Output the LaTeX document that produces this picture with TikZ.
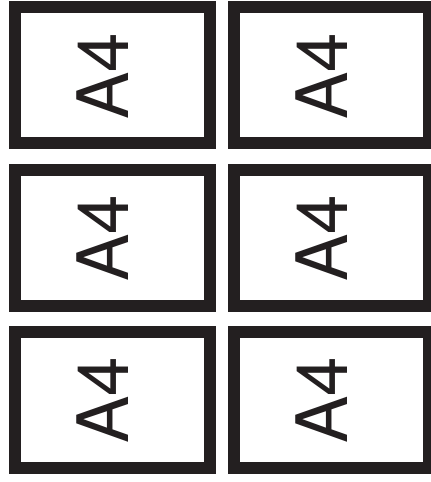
\documentclass[tikz,border=0pt]{standalone}
\usepackage{fontspec}
\setmainfont{TeX Gyre Heros}
\usetikzlibrary{positioning}
\definecolor{sheetblack}{RGB}{35,31,32}

\begin{document}
\begin{tikzpicture}[x=1pt, y=-1pt,
  sheet/.style={draw=sheetblack, line width=12pt, fill=white, inner sep=0pt,
    minimum width=195pt, minimum height=136pt},
  sheetlabel/.style={rotate=90, anchor=base, inner sep=0pt, text=sheetblack,
    font=\fontsize{71}{71}\selectfont}]
\useasboundingbox (0,0) rectangle (431,482);
% two columns, three rows of A4 sheets
\foreach \c/\x in {0/112.5, 1/331.5}{ \foreach \r/\y in {0/75, 1/237.5, 2/399.5}{
  \node[sheet] (sheet-\c-\r) at (\x,\y) {};
  \node[sheetlabel] (label-\c-\r) at ([xshift=15.5pt, yshift=-1pt]sheet-\c-\r.center) {A4};
}}
\end{tikzpicture}
\end{document}
